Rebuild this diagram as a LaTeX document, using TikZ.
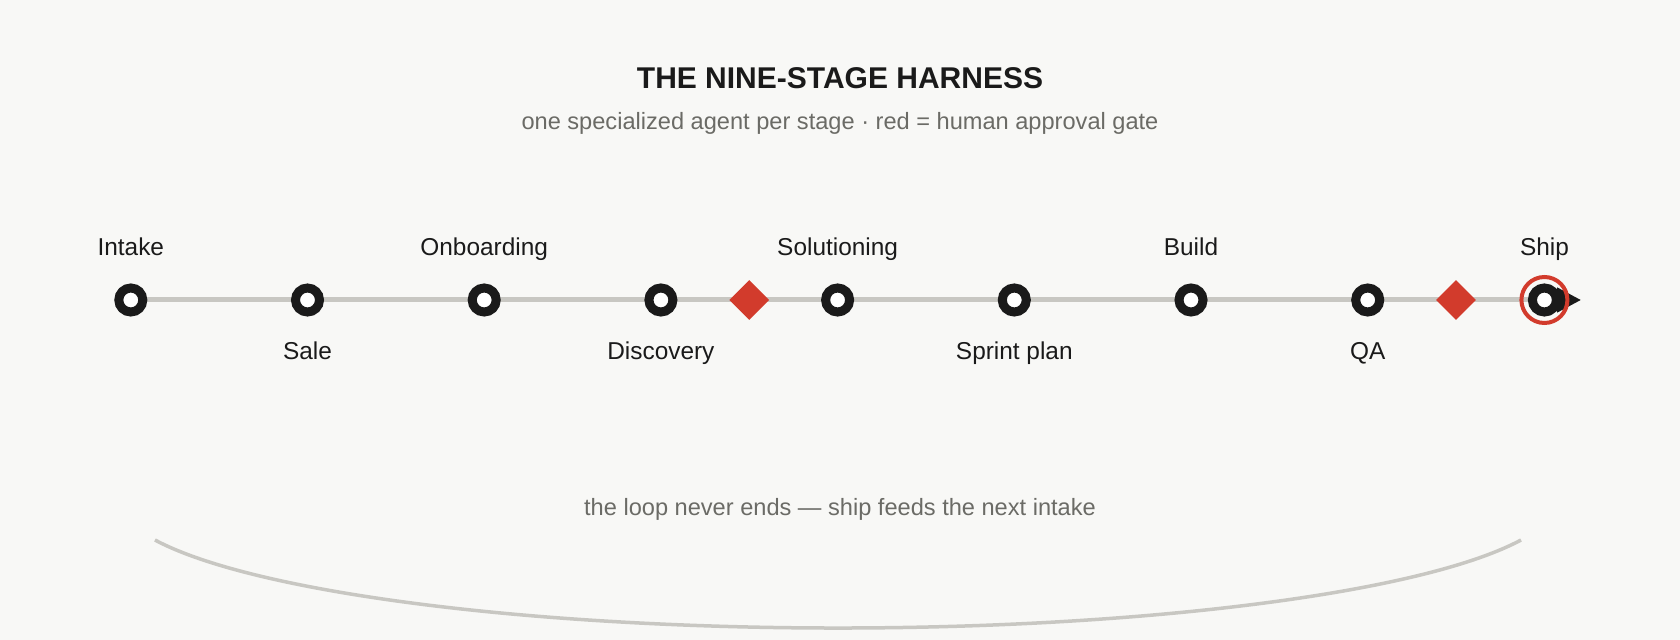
\documentclass[tikz,border=0pt]{standalone}
\usepackage{fontspec}
\setmainfont{Liberation Sans}
\usetikzlibrary{shapes.geometric,arrows.meta}
\definecolor{paper}{HTML}{F8F8F6}
\definecolor{ink}{HTML}{1A1A1A}
\definecolor{rail}{HTML}{C8C7C2}
\definecolor{gate}{HTML}{D23B2C}
\definecolor{muted}{HTML}{6B6B66}

\begin{document}
\begin{tikzpicture}[x=0.5pt,y=-0.5pt]
\tikzstyle{stage}=[circle,draw=ink,line width=4.5pt,fill=white,minimum size=12pt,inner sep=0pt];
\tikzstyle{approval}=[diamond,fill=gate,minimum size=20pt,inner sep=0pt,aspect=1];
\tikzstyle{lbl}=[anchor=base,text=ink,inner sep=0pt,font=\fontsize{12.2}{14}\selectfont];
\tikzstyle{note}=[anchor=base,text=muted,inner sep=0pt,font=\fontsize{11.8}{14}\selectfont];

\fill[paper] (0,0) rectangle (1680,640);
\useasboundingbox (0,0) rectangle (1680,640);

\draw(840,89) node[anchor=base,inner sep=0pt,text=ink,font=\bfseries\fontsize{15}{18}\selectfont] (Title) {THE NINE-STAGE HARNESS};
\draw(840,130) node[note] (Subtitle) {one specialized agent per stage · red = human approval gate};

% the rail
\coordinate (RailEnd) at (1581,300);
\draw[rail,line width=2.5pt,-{Triangle[length=12pt,width=12pt,color=ink]}] (130.8,300) coordinate (RailStart) -- (RailEnd);

\draw(130.8,300) node[stage] (Intake) {};
\draw(307.5,300) node[stage] (Sale) {};
\draw(484.2,300) node[stage] (Onboarding) {};
\draw(660.9,300) node[stage] (Discovery) {};
\draw(749.2,300) node[approval] (GateA) {};
\draw(837.6,300) node[stage] (Solutioning) {};
\draw(1014.3,300) node[stage] (SprintPlan) {};
\draw(1191,300) node[stage] (Build) {};
\draw(1367.7,300) node[stage] (QA) {};
\draw(1456,300) node[approval] (GateB) {};
\draw(1544.4,300) node[stage] (Ship) {};
\draw(1544.4,300) node[circle,draw=gate,line width=2pt,minimum size=23pt,inner sep=0pt] (ShipRing) {};

\draw(130.8,256) node[lbl] (IntakeL) {Intake};
\draw(307.5,360) node[lbl] (SaleL) {Sale};
\draw(484.2,256) node[lbl] (OnboardingL) {Onboarding};
\draw(660.9,360) node[lbl] (DiscoveryL) {Discovery};
\draw(837.6,256) node[lbl] (SolutioningL) {Solutioning};
\draw(1014.3,360) node[lbl] (SprintPlanL) {Sprint plan};
\draw(1191,256) node[lbl] (BuildL) {Build};
\draw(1367.7,360) node[lbl] (QAL) {QA};
\draw(1544.4,256) node[lbl] (ShipL) {Ship};

% loop back
\draw(840,516) node[note] (LoopNote) {the loop never ends — ship feeds the next intake};
\coordinate (LoopFrom) at (1521,540);
\draw[rail,line width=1.75pt] (LoopFrom) arc[start angle=-18.44,end angle=-161.56,x radius=360pt,y radius=64.35pt] coordinate (LoopTo);
\end{tikzpicture}
\end{document}
